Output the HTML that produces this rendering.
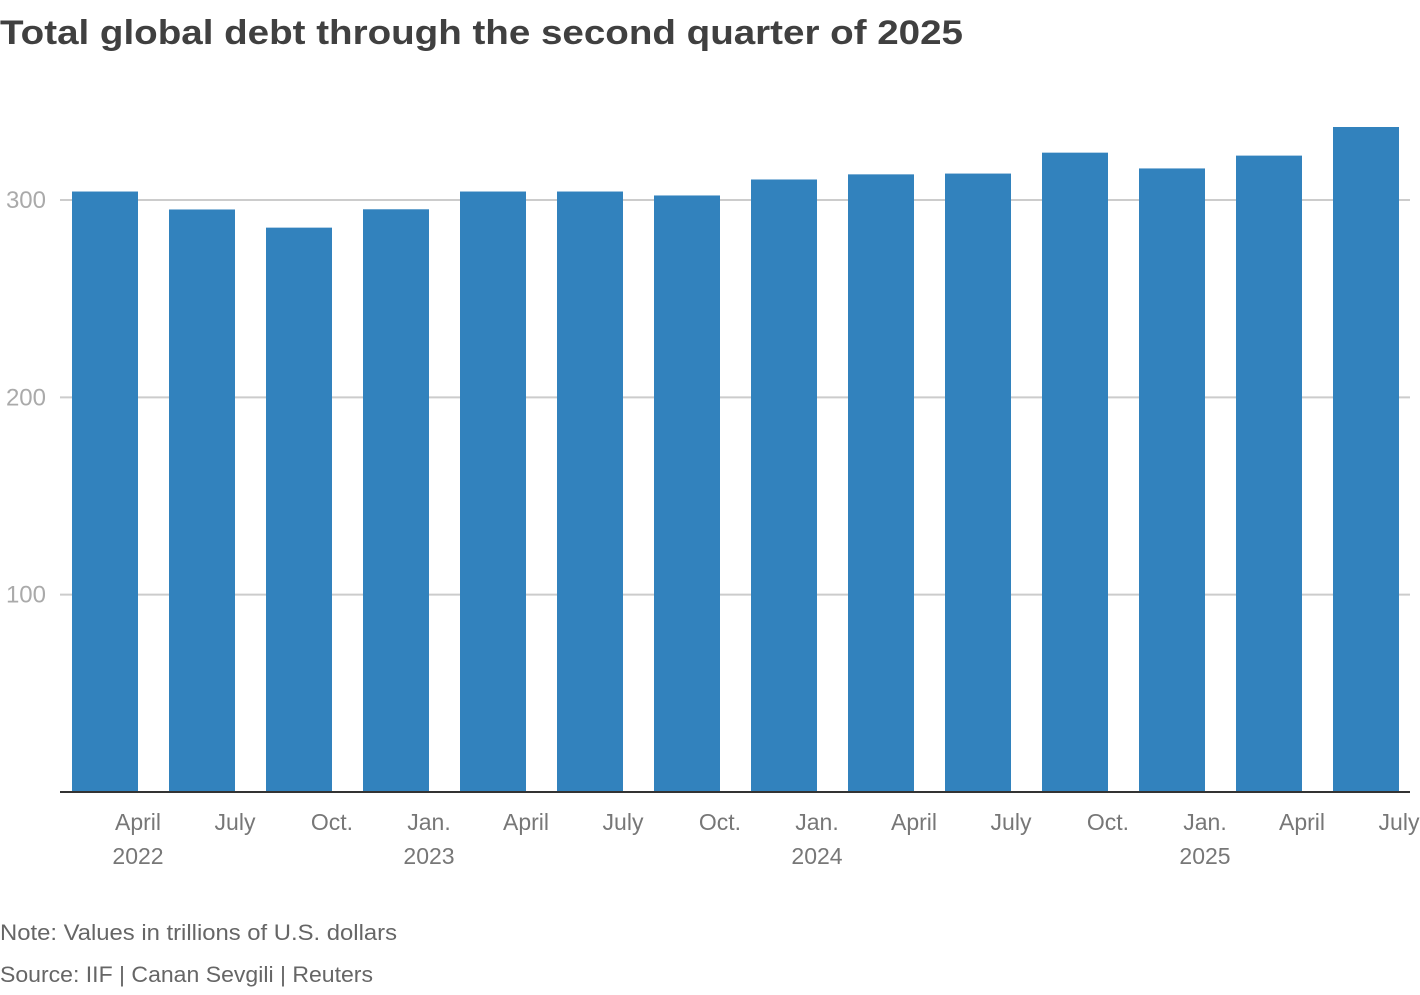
<!DOCTYPE html>
<html><head><meta charset="utf-8"><style>
body{margin:0;background:#fff;font-family:"Liberation Sans",sans-serif}
svg text{font-family:"Liberation Sans",sans-serif}
</style></head><body>
<svg width="1420" height="990">
<text x="0" y="44" font-size="34" font-weight="bold" fill="#404040" textLength="963" lengthAdjust="spacingAndGlyphs">Total global debt through the second quarter of 2025</text>
<g id="grid"></g><g id="bars"></g><g id="xlabels"></g>
<line x1="60" x2="1410" y1="792" y2="792" stroke="#333" stroke-width="2"/>
<text x="0" y="940" font-size="22" fill="#666" textLength="397" lengthAdjust="spacingAndGlyphs">Note: Values in trillions of U.S. dollars</text>
<text x="0" y="982" font-size="22" fill="#666" textLength="373" lengthAdjust="spacingAndGlyphs">Source: IIF | Canan Sevgili | Reuters</text>
</svg>
<script>
const categories=["April","July","Oct.","Jan.","April","July","Oct.","Jan.","April","July","Oct.","Jan.","April","July"];
const years=["2022","","","2023","","","","2024","","","","2025","",""];
const values=[304.3,295.2,286,295.3,304.3,304.3,302.3,310.4,313,313.4,324,316,322.5,337];
const yTicks=[100,200,300];
const NS="http://www.w3.org/2000/svg";
const y=v=>792-v*1.9733;
const x=i=>72+i*97;
const bw=66;
function mk(tag,attrs,parent){const e=document.createElementNS(NS,tag);for(const k in attrs)e.setAttribute(k,attrs[k]);parent.appendChild(e);return e;}
const grid=document.getElementById('grid');
yTicks.forEach(t=>{
 const l=mk('line',{x1:60,x2:1410,y1:y(t),y2:y(t),stroke:'#ccc','stroke-width':2},grid);
 
 
 const tx=mk('text',{x:46,y:y(t)+8,'font-size':24,fill:'#aaa','text-anchor':'end'},grid);
 tx.textContent=t;
 
 
});
const bars=document.getElementById('bars'),xl=document.getElementById('xlabels');
values.forEach((v,i)=>{
 const r=mk('rect',{x:x(i),y:y(v),width:bw,height:792-y(v),fill:'#3282bd'},bars);
 
 
 const t=mk('text',{x:x(i)+bw,y:830,'font-size':23,fill:'#777','text-anchor':'middle'},xl);
 t.textContent=categories[i];
 
 
 if(years[i]){const t2=mk('text',{x:x(i)+bw,y:864,'font-size':23,fill:'#777','text-anchor':'middle'},xl);
 t2.textContent=years[i];
 
 }
});
</script>
</body></html>
